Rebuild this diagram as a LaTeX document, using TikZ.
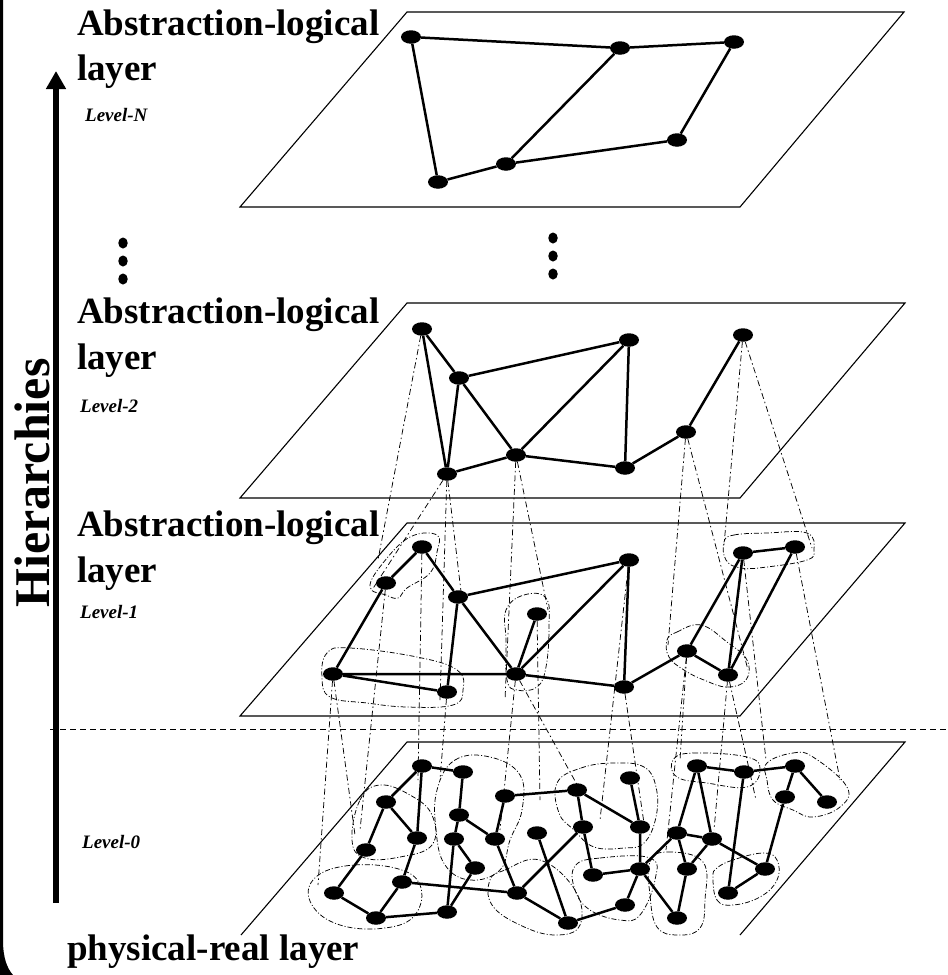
\documentclass[tikz,border=0pt]{standalone}
\usepackage{fontspec}
\setmainfont{Liberation Serif}
\usetikzlibrary{shapes.geometric,arrows.meta}
\begin{document}
\begin{tikzpicture}[x=1pt,y=-1pt,
  nd/.style={shape=ellipse,fill=black,minimum width=20pt,minimum height=13.5pt,inner sep=0pt},
  dotn/.style={shape=ellipse,fill=black,minimum width=9.5pt,minimum height=11pt,inner sep=0pt},
  edg/.style={line width=2.5pt},
  plane/.style={line width=1.1pt},
  drop/.style={line width=0.75pt,dash pattern=on 6pt off 3pt on 1.5pt off 3pt},
  grp/.style={line width=0.75pt,dash pattern=on 5pt off 2pt on 1pt off 2pt},
  lbl/.style={font=\fontsize{37}{37}\selectfont\bfseries,anchor=base west,inner sep=0pt},
  lvl/.style={font=\fontsize{19}{19}\selectfont\bfseries\itshape,anchor=base west,inner sep=0pt}]
% background and frame
\fill[white] (0,0) rectangle (948,975);
\fill[black] (0,0) -- (3,0) -- (3,940) .. controls (3,958) and (7,968) .. (13,975) -- (0,975) -- cycle;
\useasboundingbox (0,0) rectangle (948,975);

% planes
\draw[plane] (407,12) -- (904,12) -- (740,207) -- (240,207) -- cycle;
\draw[plane] (407,303) -- (905,303) -- (740,498) -- (240,498) -- cycle;
\draw[plane] (407,523) -- (905,523) -- (740,716) -- (240,716) -- cycle;
\draw[plane] (241,935) -- (407,742) -- (905,742) -- (740,935);

% separator
\draw[line width=0.9pt,dash pattern=on 6pt off 4pt] (50,729) -- (948,729);

% arrow and axis label
\draw[line width=6pt,-{Triangle[width=19pt,length=18pt]}] (56,903) -- (56,71);
\node[rotate=90,font=\fontsize{50}{50}\selectfont\bfseries,inner sep=0pt] (hier) at (32,483) {Hierarchies};

% labels
\node[lbl] (t1) at (77,35) {Abstraction-logical};
\node[lbl] (t2) at (77,80) {layer};
\node[lvl] (lN) at (85,121) {Level-N};
\node[lbl] (t3) at (77,323) {Abstraction-logical};
\node[lbl] (t4) at (77,369) {layer};
\node[lvl] (l2) at (80,412) {Level-2};
\node[lbl] (t5) at (77,536) {Abstraction-logical};
\node[lbl] (t6) at (77,582) {layer};
\node[lvl] (l1) at (80,618) {Level-1};
\node[lvl] (l0) at (82,848) {Level-0};
\node[lbl] (t7) at (67,960) {physical-real layer};

% ellipsis dots
\node[dotn] (v1) at (123,243) {};
\node[dotn] (v2) at (123,261) {};
\node[dotn] (v3) at (123,279) {};
\node[dotn] (w1) at (553,238) {};
\node[dotn] (w2) at (553,256) {};
\node[dotn] (w3) at (553,274) {};

% ---------- Level N ----------
\node[nd] (A) at (411,37) {};
\node[nd] (B) at (620,48) {};
\node[nd] (C) at (734,42) {};
\node[nd] (D) at (677,140) {};
\node[nd] (E) at (506,164) {};
\node[nd] (F) at (438,182) {};
\draw[edg] (A) -- (B) -- (C) -- (D) -- (E) -- (F) -- (A);
\draw[edg] (E) -- (B);

% ---------- Level 2 ----------
\node[nd] (a) at (422,329) {};
\node[nd] (b) at (459,378) {};
\node[nd] (c) at (447,474) {};
\node[nd] (d) at (629,340) {};
\node[nd] (e) at (743,335) {};
\node[nd] (f) at (516,455) {};
\node[nd] (g) at (625,468) {};
\node[nd] (h) at (686,432) {};
\draw[edg] (a) -- (b) (a) -- (c) (b) -- (c) (b) -- (d) (b) -- (f) (d) -- (f)
  (d) -- (g) (f) -- (c) (f) -- (g) (g) -- (h) (h) -- (e);

% ---------- Level 1 ----------
\node[nd] (p1) at (422,547) {};
\node[nd] (p2) at (386,583) {};
\node[nd] (p3) at (458,597) {};
\node[nd] (p4) at (333,674) {};
\node[nd] (p5) at (447,692) {};
\node[nd] (p6) at (516,674) {};
\node[nd] (p7) at (537,614) {};
\node[nd] (p8) at (629,560) {};
\node[nd] (p9) at (624,687) {};
\node[nd] (p10) at (687,651) {};
\node[nd] (p11) at (728,675) {};
\node[nd] (p12) at (743,553) {};
\node[nd] (p13) at (795,547) {};
\draw[edg] (p1) -- (p2) (p1) -- (p3) (p2) -- (p4) (p4) -- (p6) (p4) -- (p5)
  (p3) -- (p5) (p3) -- (p6) (p3) -- (p8) (p7) -- (p6) (p8) -- (p6) (p8) -- (p9)
  (p6) -- (p9) (p9) -- (p10) (p10) -- (p12) (p10) -- (p11) (p12) -- (p11)
  (p12) -- (p13) (p13) -- (p11);
% level-1 groups
\draw[grp] plot[smooth cycle,tension=0.7] coordinates {(370,587) (383,563) (410,537) (437,535) (437,552) (430,573) (407,588) (398,598) (386,595)};
\draw[grp] plot[smooth cycle,tension=0.7] coordinates {(327,653) (350,648) (417,657) (457,670) (463,690) (453,705) (407,707) (367,703) (330,697) (322,677)};
\draw[grp] plot[smooth cycle,tension=0.7] coordinates {(506,610) (524,595) (546,598) (549,627) (546,667) (537,687) (517,690) (507,680) (506,640)};
\draw[grp] plot[smooth cycle,tension=0.7] coordinates {(667,640) (677,632) (701,625) (727,642) (747,660) (746,680) (727,687) (704,680) (684,670) (669,657)};
\draw[grp] plot[smooth cycle,tension=0.7] coordinates {(724,542) (734,535) (767,533) (807,533) (814,550) (807,560) (767,567) (741,568) (726,560)};

% ---------- Level 0 ----------
\node[nd] (q1) at (422,766) {};
\node[nd] (q2) at (463,772) {};
\node[nd] (q3) at (386,802) {};
\node[nd] (q4) at (505,796) {};
\node[nd] (q5) at (459,815) {};
\node[nd] (q6) at (417,838) {};
\node[nd] (q7) at (454,839) {};
\node[nd] (q8) at (495,839) {};
\node[nd] (q9) at (537,833) {};
\node[nd] (q10) at (366,850) {};
\node[nd] (q11) at (475,868) {};
\node[nd] (q12) at (402,882) {};
\node[nd] (q13) at (334,893) {};
\node[nd] (q14) at (517,893) {};
\node[nd] (q15) at (376,918) {};
\node[nd] (q16) at (447,912) {};
\node[nd] (q17) at (568,923) {};
\node[nd] (r1) at (577,790) {};
\node[nd] (r2) at (630,778) {};
\node[nd] (r3) at (583,827) {};
\node[nd] (r4) at (640,827) {};
\node[nd] (r5) at (593,875) {};
\node[nd] (r6) at (640,869) {};
\node[nd] (r7) at (625,905) {};
\node[nd] (r9) at (677,833) {};
\node[nd] (r10) at (712,839) {};
\node[nd] (r11) at (687,869) {};
\node[nd] (r12) at (677,918) {};
\node[nd] (r13) at (697,766) {};
\node[nd] (r14) at (744,772) {};
\node[nd] (r15) at (795,766) {};
\node[nd] (r16) at (785,797) {};
\node[nd] (r17) at (827,802) {};
\node[nd] (r18) at (765,869) {};
\node[nd] (r19) at (728,893) {};
\draw[edg] (q1) -- (q2) (q1) -- (q3) (q1) -- (q6) (q3) -- (q6) (q3) -- (q10)
  (q10) -- (q13) (q6) -- (q12) (q12) -- (q15) (q13) -- (q15) (q15) -- (q16)
  (q12) -- (q14) (q2) -- (q5) (q5) -- (q7) (q5) -- (q8) (q4) -- (q8) (q4) -- (r1)
  (q7) -- (q11) (q7) -- (q16) (q11) -- (q16) (q8) -- (q14) (q9) -- (q17)
  (q14) -- (q17) (q14) -- (r3) (r1) -- (r3) (r1) -- (r4) (r2) -- (r4) (r4) -- (r6)
  (r3) -- (r5) (r5) -- (r6) (r6) -- (r7) (r7) -- (q17) (r6) -- (r12) (r6) -- (r9)
  (r9) -- (r11) (r9) -- (r13) (r13) -- (r10) (r10) -- (r11) (r11) -- (r12)
  (r9) -- (r10) (r10) -- (r18) (r13) -- (r14) (r14) -- (r15) (r14) -- (r19)
  (r15) -- (r16) (r15) -- (r17) (r16) -- (r18) (r18) -- (r19);
% level-0 groups
\draw[grp] plot[smooth cycle,tension=0.7] coordinates {(313,880) (345,866) (395,868) (420,885) (415,915) (385,928) (340,925) (312,905)};
\draw[grp] plot[smooth cycle,tension=0.7] coordinates {(352,840) (360,800) (380,785) (410,795) (432,815) (432,845) (400,857) (365,858)};
\draw[grp] plot[smooth cycle,tension=0.7] coordinates {(437,790) (455,760) (490,757) (520,775) (522,810) (510,840) (500,870) (470,880) (445,865) (436,830)};
\draw[grp] plot[smooth cycle,tension=0.7] coordinates {(557,783) (581,768) (614,763) (644,767) (656,787) (656,817) (644,843) (624,848) (594,847) (574,830) (559,813)};
\draw[grp] plot[smooth cycle,tension=0.7] coordinates {(650,862) (668,852) (703,862) (705,900) (700,928) (678,935) (657,927) (650,895)};
\draw[grp] plot[smooth cycle,tension=0.7] coordinates {(713,877) (717,900) (733,905) (760,897) (777,880) (777,860) (763,853) (733,860) (717,868)};
\draw[grp] plot[smooth cycle,tension=0.7] coordinates {(673,760) (693,753) (747,757) (760,770) (747,787) (707,783) (677,777)};
\draw[grp] plot[smooth cycle,tension=0.7] coordinates {(767,763) (793,753) (813,757) (847,787) (840,807) (813,817) (793,810) (773,800) (767,780)};
\draw[grp] plot[smooth cycle,tension=0.7] coordinates {(575,866) (600,858) (650,858) (655,880) (640,915) (620,920) (590,910) (575,890)};
\draw[grp] plot[smooth cycle,tension=0.7] coordinates {(490,880) (505,870) (540,860) (575,890) (580,925) (555,935) (520,925) (492,905)};

% ---------- inter-level drop lines ----------
\draw[drop] (a) -- (378,560);
\draw[drop] (c) -- (372,590);
\draw[drop] (c) -- (440,700);
\draw[drop] (c) -- (462,600);
\draw[drop] (f) -- (505,700);
\draw[drop] (f) -- (548,610);
\draw[drop] (h) -- (668,645);
\draw[drop] (h) -- (748,670);
\draw[drop] (e) -- (724,545);
\draw[drop] (e) -- (812,548);

\draw[drop] (p4) -- (318,885);
\draw[drop] (p4) -- (355,835);
\draw[drop] (p2) -- (360,830);
\draw[drop] (p1) -- (418,780);
\draw[drop] (p5) -- (440,780);
\draw[drop] (p6) -- (500,830);
\draw[drop] (p7) -- (540,800);
\draw[drop] (p6) -- (580,790);
\draw[drop] (p8) -- (600,820);
\draw[drop] (p9) -- (645,830);
\draw[drop] (p10) -- (666,850);
\draw[drop] (p10) -- (680,760);
\draw[drop] (p11) -- (714,830);
\draw[drop] (p11) -- (756,800);
\draw[drop] (p12) -- (766,760);
\draw[drop] (p13) -- (840,780);
\end{tikzpicture}
\end{document}
